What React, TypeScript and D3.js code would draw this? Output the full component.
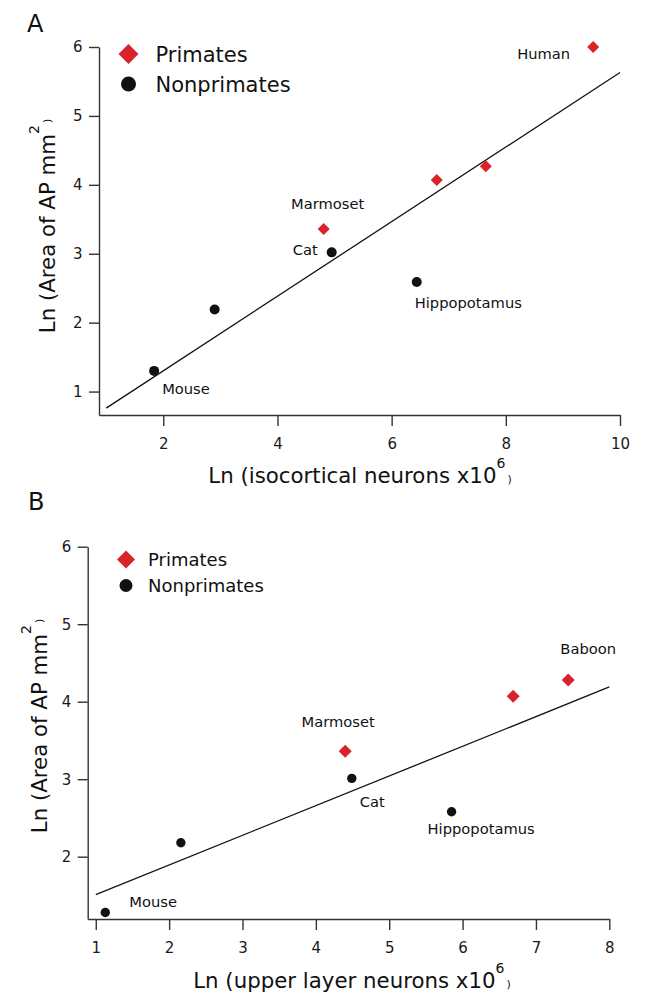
import React, { useEffect, useRef } from 'react';
import * as d3 from 'd3';

const RED = '#d8232a';
const FONT = '"DejaVu Sans", Verdana, sans-serif';

// Panel A - isocortical neurons
const primatesA_x = [4.81, 6.79, 7.65, 9.53];
const primatesA_y = [3.36, 4.07, 4.27, 6.0];
const primatesA_names = ['Marmoset', '', '', 'Human'];
const nonprimatesA_x = [1.84, 2.9, 4.95, 6.44];
const nonprimatesA_y = [1.3, 2.19, 3.02, 2.59];
const nonprimatesA_names = ['Mouse', '', 'Cat', 'Hippopotamus'];
const fitA_x = [1, 10];
const fitA_y = [0.76, 5.63];
const xTicksA = [2, 4, 6, 8, 10];
const yTicksA = [1, 2, 3, 4, 5, 6];

// Panel B - upper layer neurons
const primatesB_x = [4.4, 6.69, 7.44];
const primatesB_y = [3.36, 4.07, 4.28];
const primatesB_names = ['Marmoset', '', 'Baboon'];
const nonprimatesB_x = [1.13, 2.16, 4.49, 5.85];
const nonprimatesB_y = [1.28, 2.18, 3.01, 2.58];
const nonprimatesB_names = ['Mouse', '', 'Cat', 'Hippopotamus'];
const fitB_x = [1, 8];
const fitB_y = [1.51, 4.19];
const xTicksB = [1, 2, 3, 4, 5, 6, 7, 8];
const yTicksB = [2, 3, 4, 5, 6];

const legendNames = ['Primates', 'Nonprimates'];

// label placement (anchor, dx, dy) per name
const labelPosA = {
  Mouse: ['start', 8, 23],
  Cat: ['end', -14, 3],
  Hippopotamus: ['start', -2, 26],
  Marmoset: ['middle', 4, -20],
  Human: ['end', -23, 12],
};
const labelPosB = {
  Mouse: ['start', 24, -5],
  Cat: ['start', 8, 29],
  Hippopotamus: ['start', -24, 22],
  Marmoset: ['middle', -7, -24],
  Baboon: ['middle', 20, -26],
};

function drawPanel(root, cfg) {
  const g = root.append('g');
  const x = d3.scaleLinear().domain(cfg.xDomain).range(cfg.xRange);
  const y = d3.scaleLinear().domain(cfg.yDomain).range(cfg.yRange);

  const xAxis = g.append('g')
    .attr('transform', `translate(0,${cfg.yRange[0]})`)
    .call(d3.axisBottom(x).tickValues(cfg.xTicks).tickSize(11).tickSizeOuter(0).tickPadding(12).tickFormat(d3.format('d')));
  const yAxis = g.append('g')
    .attr('transform', `translate(${cfg.xRange[0]},0)`)
    .call(d3.axisLeft(y).tickValues(cfg.yTicks).tickSize(10).tickSizeOuter(0).tickPadding(6.5).tickFormat(d3.format('d')));

  [xAxis, yAxis].forEach(a => {
    a.attr('font-family', FONT).attr('font-size', 15);
    a.select('.domain').attr('stroke', '#333').attr('stroke-width', 1.4);
    a.selectAll('.tick line').attr('stroke', '#333').attr('stroke-width', 1.4);
    a.selectAll('.tick text').attr('fill', '#1a1a1a');
  });

  // regression line
  const line = d3.line().x(d => x(d[0])).y(d => y(d[1]));
  g.append('path')
    .datum(d3.zip(cfg.fitX, cfg.fitY))
    .attr('d', line)
    .attr('fill', 'none')
    .attr('stroke', '#111')
    .attr('stroke-width', 1.3);

  const diamond = size => d3.symbol().type(d3.symbolSquare).size(size)();
  const dot = r => d3.symbol().type(d3.symbolCircle).size(Math.PI * r * r)();

  // nonprimates
  g.selectAll('.np')
    .data(d3.zip(cfg.npX, cfg.npY))
    .enter()
    .append('path')
    .attr('d', dot(cfg.dotR))
    .attr('transform', d => `translate(${x(d[0])},${y(d[1])})`)
    .attr('fill', '#111');

  // primates
  g.selectAll('.pr')
    .data(d3.zip(cfg.prX, cfg.prY))
    .enter()
    .append('path')
    .attr('d', diamond(cfg.diamondSize))
    .attr('transform', d => `translate(${x(d[0])},${y(d[1])}) rotate(45)`)
    .attr('fill', RED);

  // point labels
  const labels = [];
  cfg.prNames.forEach((n, i) => n && labels.push([n, cfg.prX[i], cfg.prY[i]]));
  cfg.npNames.forEach((n, i) => n && labels.push([n, cfg.npX[i], cfg.npY[i]]));
  g.selectAll('.lbl')
    .data(labels)
    .enter()
    .append('text')
    .attr('x', d => x(d[1]) + cfg.labelPos[d[0]][1])
    .attr('y', d => y(d[2]) + cfg.labelPos[d[0]][2])
    .attr('text-anchor', d => cfg.labelPos[d[0]][0])
    .style('font-family', FONT)
    .style('font-size', '14.7px')
    .attr('fill', '#111')
    .text(d => d[0]);

  // legend
  const lg = g.append('g').attr('transform', `translate(${cfg.legend[0]},${cfg.legend[1]})`);
  lg.append('path')
    .attr('d', diamond(cfg.legDiamond))
    .attr('transform', 'rotate(45)')
    .attr('fill', RED);
  lg.append('path')
    .attr('d', dot(cfg.legDotR))
    .attr('transform', `translate(0,${cfg.legGap})`)
    .attr('fill', '#111');
  lg.selectAll('.lt')
    .data(legendNames)
    .enter()
    .append('text')
    .attr('x', cfg.legTextX)
    .attr('y', (d, i) => i * cfg.legGap)
    .attr('dy', '0.36em')
    .style('font-family', FONT)
    .style('font-size', `${cfg.legFont}px`)
    .attr('fill', '#111')
    .text(d => d);

  // panel letter
  g.append('text')
    .attr('x', cfg.letterPos[0])
    .attr('y', cfg.letterPos[1])
    .style('font-family', FONT)
    .style('font-size', '24px')
    .attr('fill', '#111')
    .text(cfg.letter);

  // x title
  const xt = g.append('text')
    .attr('x', cfg.xTitlePos[0])
    .attr('y', cfg.xTitlePos[1])
    .attr('text-anchor', 'middle')
    .style('font-family', FONT)
    .style('font-size', '21.3px')
    .attr('fill', '#111');
  xt.append('tspan').text(cfg.xTitle);
  xt.append('tspan').attr('dy', -15).style('font-size', '14px').text('6');
  xt.append('tspan').attr('dy', 15).attr('dx', 2).style('font-size', '11px').text(')');

  // y title
  const yt = g.append('text')
    .attr('transform', `translate(${cfg.yTitlePos[0]},${cfg.yTitlePos[1]}) rotate(-90)`)
    .attr('text-anchor', 'middle')
    .style('font-family', FONT)
    .style('font-size', '21.3px')
    .attr('fill', '#111');
  yt.append('tspan').text('Ln (Area of AP mm');
  yt.append('tspan').attr('dy', -16).style('font-size', '14px').text('2');
  yt.append('tspan').attr('dy', 12).attr('dx', 2).style('font-size', '11px').text(')');
}

export default function App() {
  const svgRef = useRef(null);

  useEffect(() => {
    const svg = d3.select(svgRef.current);
    svg.selectAll('*').remove();
    svg.append('rect').attr('width', 645).attr('height', 1008).attr('fill', '#fff');

    drawPanel(svg, {
      letter: 'A',
      letterPos: [27, 32],
      xDomain: [0.874, 10], xRange: [99, 620],
      yDomain: [0.66, 6], yRange: [415, 47],
      xTicks: xTicksA, yTicks: yTicksA,
      prX: primatesA_x, prY: primatesA_y, prNames: primatesA_names,
      npX: nonprimatesA_x, npY: nonprimatesA_y, npNames: nonprimatesA_names,
      fitX: fitA_x, fitY: fitA_y,
      labelPos: labelPosA,
      dotR: 5, diamondSize: 72,
      legend: [128.5, 54], legGap: 30, legTextX: 27, legFont: 21, legDiamond: 200, legDotR: 7.5,
      xTitle: 'Ln (isocortical neurons x10', xTitlePos: [360, 483],
      yTitlePos: [55, 226],
    });

    drawPanel(svg, {
      letter: 'B',
      letterPos: [28, 510],
      xDomain: [0.89, 8], xRange: [87.7, 609.3],
      yDomain: [1.196, 6], yRange: [919, 546.7],
      xTicks: xTicksB, yTicks: yTicksB,
      prX: primatesB_x, prY: primatesB_y, prNames: primatesB_names,
      npX: nonprimatesB_x, npY: nonprimatesB_y, npNames: nonprimatesB_names,
      fitX: fitB_x, fitY: fitB_y,
      labelPos: labelPosB,
      dotR: 4.7, diamondSize: 84,
      legend: [126, 559.5], legGap: 26, legTextX: 22, legFont: 18, legDiamond: 162, legDotR: 6.5,
      xTitle: 'Ln (upper layer neurons x10', xTitlePos: [352, 988],
      yTitlePos: [47, 726],
    });
  }, []);

  return (
    <svg
      ref={svgRef}
      width={645}
      height={1008}
      style={{ position: 'absolute', left: 0, top: 0, display: 'block' }}
    />
  );
}
